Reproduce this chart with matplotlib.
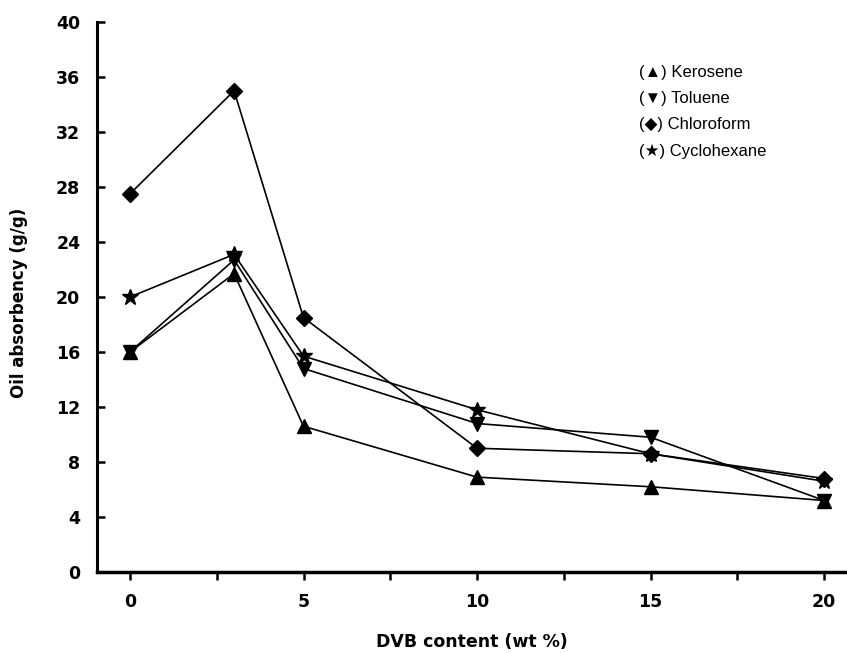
import matplotlib.pyplot as plt

# DVB content (wt %) and oil absorbency (g/g)
dvb = [0, 3, 5, 10, 15, 20]
kerosene = [16.0, 21.7, 10.6, 6.9, 6.2, 5.2]
toluene = [16.0, 22.7, 14.8, 10.8, 9.8, 5.2]
chloroform = [27.5, 35.0, 18.5, 9.0, 8.6, 6.8]
cyclohexane = [20.0, 23.1, 15.7, 11.8, 8.6, 6.6]

series = [
    ("Kerosene", kerosene, "^", "\u25b2"),
    ("Toluene", toluene, "v", "\u25bc"),
    ("Chloroform", chloroform, "D", "\u25c6"),
    ("Cyclohexane", cyclohexane, "*", "\u2605"),
]

fig = plt.figure(figsize=(8.47, 6.53), dpi=100)
ax = fig.add_axes([97 / 847, 81 / 653, 750 / 847, 550 / 653])

sizes = {"^": 10, "v": 10, "D": 8, "*": 12}
for name, vals, mk, sym in series:
    ax.plot(dvb, vals, color="black", lw=1.2, marker=mk,
            markersize=sizes[mk], markerfacecolor="black",
            markeredgecolor="black")

ax.set_xlim(-0.95, 20.66)
ax.set_ylim(0, 40)
ax.set_xticks([0, 5, 10, 15, 20])
ax.set_xticks([2.5, 7.5, 12.5, 17.5], minor=True)
ax.set_yticks(range(0, 41, 4))

for s in ["top", "right"]:
    ax.spines[s].set_visible(False)
ax.spines["left"].set_linewidth(2.2)
ax.spines["bottom"].set_linewidth(2.5)

ax.tick_params(axis="y", direction="in", length=6, width=1.8, pad=12)
ax.tick_params(axis="x", which="both", direction="out", length=6, width=1.8, pad=9)
for lab in ax.get_xticklabels() + ax.get_yticklabels():
    lab.set_fontweight("heavy")
    lab.set_fontsize(12.5)
    lab.set_family("DejaVu Sans")

ax.set_xlabel("DVB content (wt %)", fontsize=12.5, fontweight="heavy",
              family="DejaVu Sans", labelpad=16)
ax.set_ylabel("Oil absorbency (g/g)", fontsize=12, fontweight="heavy",
              family="DejaVu Sans")
ax.yaxis.set_label_coords(-0.092, 0.49)

# legend written as text lines, like the original figure
for i, (name, vals, mk, sym) in enumerate(series):
    ax.text(0.723, 0.908 - i * 0.0475, "(" + sym + ") " + name,
            transform=ax.transAxes, fontsize=12, va="center", ha="left",
            family=["Liberation Sans", "DejaVu Sans"])

plt.savefig("out.png", dpi=100)
